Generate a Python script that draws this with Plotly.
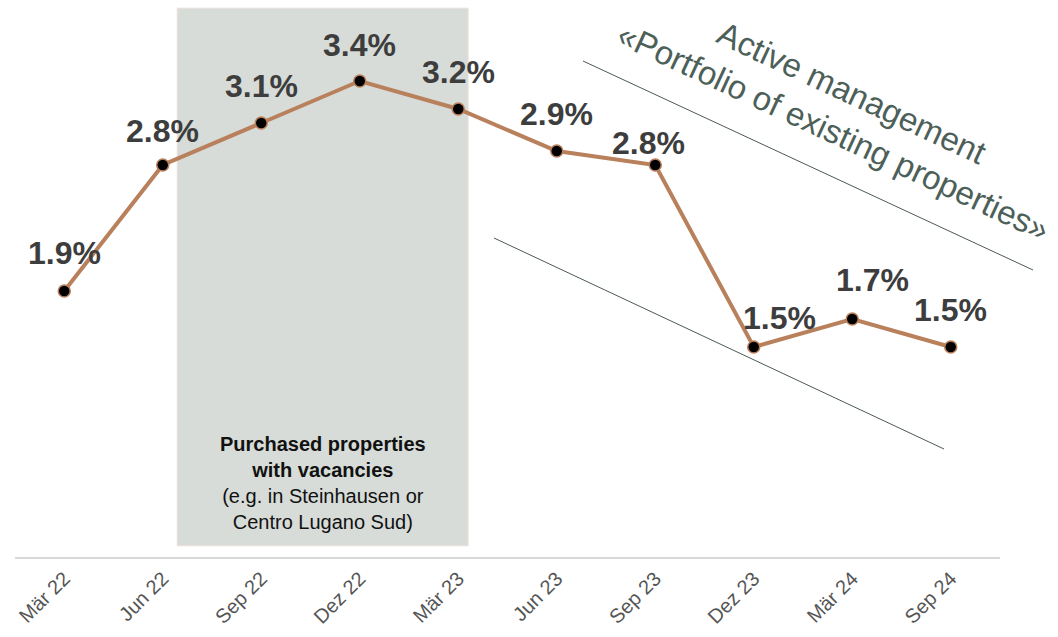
import plotly.graph_objects as go

# Quarterly vacancy rate
quarters = ["Mär 22", "Jun 22", "Sep 22", "Dez 22", "Mär 23",
            "Jun 23", "Sep 23", "Dez 23", "Mär 24", "Sep 24"]
vacancy = [1.9, 2.8, 3.1, 3.4, 3.2, 2.9, 2.8, 1.5, 1.7, 1.5]
value_labels = ["1.9%", "2.8%", "3.1%", "3.4%", "3.2%",
                "2.9%", "2.8%", "1.5%", "1.7%", "1.5%"]

# label offsets (pixels) relative to each marker
label_dx = [0, 0, 0, 0, 0, 0, -7, 26, 20, 0]
label_dy = [38, 34, 37, 36, 37, 37, 22, 29, 39, 37]

xs = list(range(len(quarters)))

LINE_COLOR = "#b9805c"
LABEL_COLOR = "#3d3d3d"
NOTE_COLOR = "#4d5f59"
FONT = "Liberation Sans, Arial, sans-serif"

fig = go.Figure()

fig.add_trace(go.Scatter(
    x=xs, y=vacancy, mode="lines+markers",
    line=dict(color=LINE_COLOR, width=4),
    marker=dict(color="black", size=12, line=dict(color=LINE_COLOR, width=1.5)),
    hoverinfo="skip", showlegend=False,
))

annotations = []
for x, y, t, dx, dy in zip(xs, vacancy, value_labels, label_dx, label_dy):
    annotations.append(dict(
        x=x, y=y, xref="x", yref="y", text=f"<b>{t}</b>", showarrow=False,
        xanchor="center", yanchor="middle", xshift=dx, yshift=dy,
        font=dict(family=FONT, size=32, color=LABEL_COLOR),
    ))

# note inside the shaded period
annotations.append(dict(
    x=2.63, y=0.53, xref="x", yref="y", showarrow=False,
    text="<b>Purchased properties<br>with vacancies</b><br>(e.g. in Steinhausen or<br>Centro Lugano Sud)",
    align="center", xanchor="center", yanchor="middle",
    font=dict(family=FONT, size=20, color="#111111"),
))

# rotated heading over the downward trend band
annotations.append(dict(
    x=(842 - 15) / 985, y=(557 - 112) / 557, xref="paper", yref="paper",
    showarrow=False, textangle=25,
    text="Active management<br>«Portfolio of existing properties»",
    align="center", xanchor="center", yanchor="middle",
    font=dict(family=FONT, size=33, color=NOTE_COLOR),
))

shapes = [
    # shaded acquisition period
    dict(type="rect", xref="x", yref="y", x0=1.147, x1=4.10, y0=0.08, y1=3.92,
         fillcolor="#d7dcd8", line=dict(color="#eadfdb", width=1), layer="below"),
    # trend band lines
    dict(type="line", xref="paper", yref="paper",
         x0=(583 - 15) / 985, y0=(557 - 61) / 557,
         x1=(1033 - 15) / 985, y1=(557 - 270) / 557,
         line=dict(color="#4a5a55", width=1)),
    dict(type="line", xref="paper", yref="paper",
         x0=(494 - 15) / 985, y0=(557 - 238) / 557,
         x1=(944 - 15) / 985, y1=(557 - 449) / 557,
         line=dict(color="#4a5a55", width=1)),
]

fig.update_layout(
    width=1058, height=637,
    margin=dict(l=15, r=58, t=0, b=80),
    paper_bgcolor="white", plot_bgcolor="white",
    annotations=annotations, shapes=shapes,
    font=dict(family=FONT),
)
fig.update_xaxes(
    range=[-0.5, 9.5], tickmode="array", tickvals=xs, ticktext=quarters,
    tickangle=-45, tickfont=dict(family=FONT, size=20, color="#555555"),
    showgrid=False, zeroline=False, showline=True, linecolor="#d9d9d9",
    linewidth=2, ticks="", fixedrange=True,
)
fig.update_yaxes(
    range=[0, 557 / 140], visible=False, showgrid=False, zeroline=False,
    fixedrange=True,
)

fig.write_html("out.html")
